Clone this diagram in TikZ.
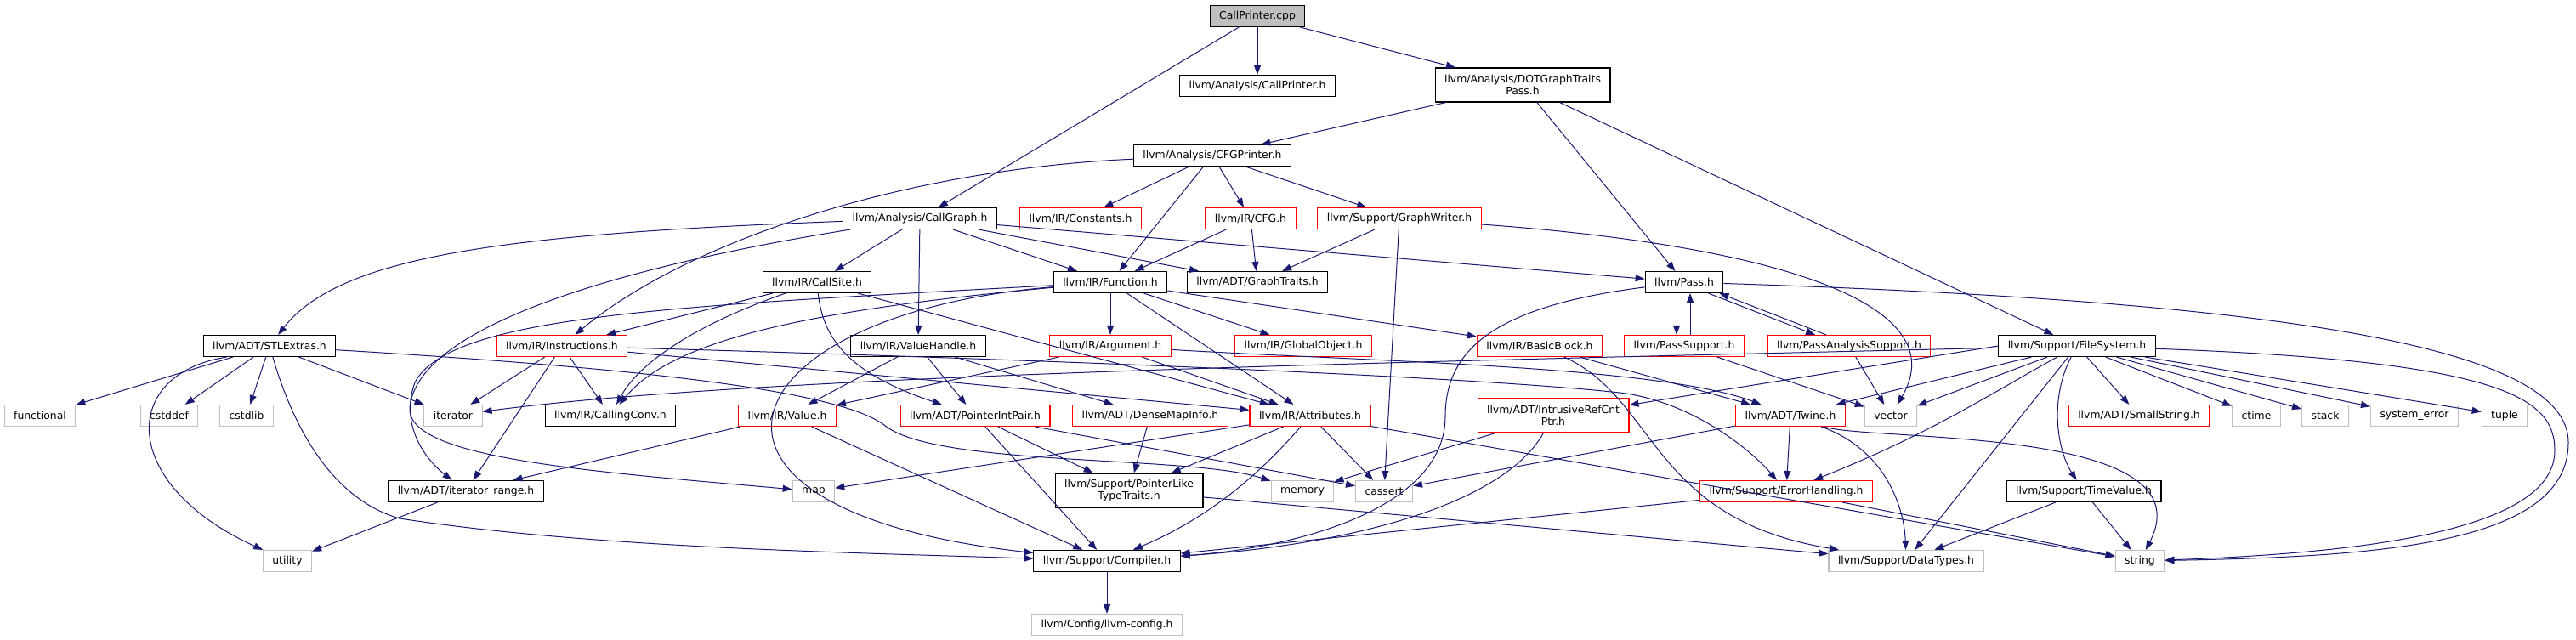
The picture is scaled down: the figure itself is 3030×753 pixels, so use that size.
\documentclass[tikz,border=0pt]{standalone}
\usepackage{fontspec}
\setmainfont{DejaVu Sans}
\usepackage{tikz}
\usetikzlibrary{arrows.meta}
\definecolor{edgeblue}{RGB}{25, 25, 112}
\definecolor{sysgrey}{RGB}{191, 191, 191}
\definecolor{cutred}{RGB}{255, 0, 0}

\begin{document}
\begin{tikzpicture}[x=0.5pt, y=-0.5pt,
  file/.style={draw=black, line width=0.55pt, font=\fontsize{6.2}{7}\selectfont,
    inner xsep=5.5pt, inner ysep=1pt, minimum height=12.5pt, align=center},
  sysfile/.style={file, draw=sysgrey},
  cutfile/.style={file, draw=cutred},
  rootfile/.style={file, fill=sysgrey},
  twoline/.style={minimum height=20pt},
  inc/.style={-{Triangle[length=5.5pt,width=4pt]}, edgeblue, line width=0.5pt}]
  \useasboundingbox (0,0) rectangle (3030,753);

  % rank 0-2
  \node[rootfile] (cpp)  at (1479,19)  {CallPrinter.cpp};
  \node[file]     (cph)  at (1479,101) {llvm/Analysis/CallPrinter.h};
  \node[file, twoline] (dot) at (1791,100) {llvm/Analysis/DOTGraphTraits\\Pass.h};
  \node[file]     (cfgp) at (1426,183) {llvm/Analysis/CFGPrinter.h};
  % rank 3
  \node[file]    (cg)    at (1082,257) {llvm/Analysis/CallGraph.h};
  \node[cutfile] (const) at (1271,257) {llvm/IR/Constants.h};
  \node[cutfile] (cfg)   at (1471,257) {llvm/IR/CFG.h};
  \node[cutfile] (gw)    at (1646,257) {llvm/Support/GraphWriter.h};
  % rank 4
  \node[file] (cs)   at (961,332)  {llvm/IR/CallSite.h};
  \node[file] (fn)   at (1306,332) {llvm/IR/Function.h};
  \node[file] (gt)   at (1479,332) {llvm/ADT/GraphTraits.h};
  \node[file] (pass) at (1981,332) {llvm/Pass.h};
  % rank 5
  \node[file]    (stl)  at (317,407)  {llvm/ADT/STLExtras.h};
  \node[cutfile] (inst) at (661,407)  {llvm/IR/Instructions.h};
  \node[file]    (vh)   at (1080,407) {llvm/IR/ValueHandle.h};
  \node[cutfile] (arg)  at (1306,407) {llvm/IR/Argument.h};
  \node[cutfile] (gobj) at (1533,407) {llvm/IR/GlobalObject.h};
  \node[cutfile] (bb)   at (1811,407) {llvm/IR/BasicBlock.h};
  \node[cutfile] (ps)   at (1981,407) {llvm/PassSupport.h};
  \node[cutfile] (pas)  at (2175,407) {llvm/PassAnalysisSupport.h};
  \node[file]    (fs)   at (2443,407) {llvm/Support/FileSystem.h};
  % rank 6
  \node[sysfile] (functional) at (47,489)  {functional};
  \node[sysfile] (cstddef)    at (199,489) {cstddef};
  \node[sysfile] (cstdlib)    at (290,489) {cstdlib};
  \node[sysfile] (iterator)   at (533,489) {iterator};
  \node[file]    (cc)   at (718,489)  {llvm/IR/CallingConv.h};
  \node[cutfile] (val)  at (926,489)  {llvm/IR/Value.h};
  \node[cutfile] (pip)  at (1147,489) {llvm/ADT/PointerIntPair.h};
  \node[cutfile] (dmi)  at (1353,489) {llvm/ADT/DenseMapInfo.h};
  \node[cutfile] (attr) at (1541,489) {llvm/IR/Attributes.h};
  \node[cutfile, twoline] (irc) at (1827,489) {llvm/ADT/IntrusiveRefCnt\\Ptr.h};
  \node[cutfile] (tw)   at (2106,489) {llvm/ADT/Twine.h};
  \node[sysfile] (vector) at (2224,489) {vector};
  \node[cutfile] (ss)   at (2516,489) {llvm/ADT/SmallString.h};
  \node[sysfile] (ctime)  at (2654,489) {ctime};
  \node[sysfile] (stack)  at (2735,489) {stack};
  \node[sysfile] (syserr) at (2840,489) {system\_error};
  \node[sysfile] (tuple)  at (2946,489) {tuple};
  % rank 7
  \node[file]    (itr)    at (548,578)  {llvm/ADT/iterator\_range.h};
  \node[sysfile] (map)    at (957,578)  {map};
  \node[file, twoline] (pltt) at (1328,577) {llvm/Support/PointerLike\\TypeTraits.h};
  \node[sysfile] (memory)  at (1532,578) {memory};
  \node[sysfile] (cassert) at (1628,578) {cassert};
  \node[cutfile] (eh)     at (2101,578) {llvm/Support/ErrorHandling.h};
  \node[file]    (tv)     at (2451,578) {llvm/Support/TimeValue.h};
  % rank 8-9
  \node[sysfile] (utility) at (338,660)  {utility};
  \node[file]    (comp)    at (1302,660) {llvm/Support/Compiler.h};
  \node[sysfile] (dt)      at (2242,660) {llvm/Support/DataTypes.h};
  \node[sysfile] (string)  at (2517,660) {string};
  \node[sysfile] (cfgh)    at (1302,735) {llvm/Config/llvm-config.h};

  % CallPrinter.cpp
  \draw[inc] (cpp) -- (cg);
  \draw[inc] (cpp) -- (cph);
  \draw[inc] (cpp) -- (dot);
  % DOTGraphTraitsPass.h
  \draw[inc] (dot) -- (cfgp);
  \draw[inc] (dot) -- (pass);
  \draw[inc] (dot) -- (fs);
  % CFGPrinter.h
  \draw[inc] (cfgp) .. controls (1050,200) and (800,290) .. (inst);
  \draw[inc] (cfgp) -- (const);
  \draw[inc] (cfgp) -- (fn);
  \draw[inc] (cfgp) -- (cfg);
  \draw[inc] (cfgp) -- (gw);
  % CallGraph.h
  \draw[inc] (cg) .. controls (600,275) and (400,300) .. (stl);
  \draw[inc] (cg) .. controls (750,310) and (490,380) .. (482,480) .. controls (478,540) and (700,555) .. (map);
  \draw[inc] (cg) -- (cs);
  \draw[inc] (cg) -- (vh);
  \draw[inc] (cg) -- (fn);
  \draw[inc] (cg) -- (gt);
  \draw[inc] (cg) -- (pass);
  % CFG.h, GraphWriter.h
  \draw[inc] (cfg) -- (fn);
  \draw[inc] (cfg) -- (gt);
  \draw[inc] (gw) -- (gt);
  \draw[inc] (gw) -- (cassert);
  \draw[inc] (gw) .. controls (2100,290) and (2300,360) .. (vector);
  % CallSite.h
  \draw[inc] (cs) -- (inst);
  \draw[inc] (cs) .. controls (810,385) and (750,430) .. (cc);
  \draw[inc] (cs) .. controls (968,400) and (1000,440) .. (pip);
  \draw[inc] (cs) -- (attr);
  % Function.h
  \draw[inc] (fn) .. controls (800,360) and (530,370) .. (488,450) .. controls (470,500) and (500,540) .. (itr);
  \draw[inc] (fn) .. controls (950,365) and (790,400) .. (cc);
  \draw[inc] (fn) .. controls (850,370) and (760,600) .. (comp);
  \draw[inc] (fn) -- (arg);
  \draw[inc] (fn) -- (attr);
  \draw[inc] (fn) -- (gobj);
  \draw[inc] (fn) -- (bb);
  % Pass.h
  \draw[inc] ([xshift=-4.5pt]pass.south) -- ([xshift=-4.5pt]ps.north);
  \draw[inc] ([xshift=3.5pt]ps.north) -- ([xshift=3.5pt]pass.south);
  \draw[inc] ([xshift=-9pt]pass.south east) -- ([xshift=-20pt]pas.north);
  \draw[inc] ([xshift=-13.5pt]pas.north) -- ([xshift=-2.5pt]pass.south east);
  \draw[inc] (pass) .. controls (1760,360) and (1700,410) .. (1700,490) .. controls (1700,600) and (1520,645) .. (comp);
  \draw[inc] (pass) .. controls (2700,355) and (3020,410) .. (3021,520) .. controls (3022,640) and (2800,655) .. (string);
  % STLExtras.h
  \draw[inc] (stl) -- (functional);
  \draw[inc] (stl) -- (cstddef);
  \draw[inc] (stl) -- (cstdlib);
  \draw[inc] (stl) -- (iterator);
  \draw[inc] ([xshift=14pt]stl.south west) .. controls (140,440) and (140,570) .. (utility);
  \draw[inc] (stl) .. controls (350,520) and (400,590) .. (470,610) .. controls (700,645) and (1000,650) .. (comp);
  \draw[inc] (stl) .. controls (700,430) and (980,455) .. (1040,500) .. controls (1100,550) and (1400,535) .. (memory);
  % Instructions.h
  \draw[inc] (inst) -- (iterator);
  \draw[inc] (inst) -- (cc);
  \draw[inc] (inst) -- (itr);
  \draw[inc] (inst) -- (attr);
  \draw[inc] (inst) .. controls (1300,425) and (1750,445) .. (1905,462) .. controls (1990,472) and (2060,530) .. (eh);
  % ValueHandle.h, Argument.h, BasicBlock.h
  \draw[inc] (vh) -- (val);
  \draw[inc] (vh) -- (pip);
  \draw[inc] (vh) -- (dmi);
  \draw[inc] (arg) -- (val);
  \draw[inc] (arg) -- (attr);
  \draw[inc] (arg) .. controls (1600,425) and (1950,430) .. (tw);
  \draw[inc] (bb) -- (tw);
  \draw[inc] (bb) .. controls (1950,470) and (1940,610) .. (dt);
  \draw[inc] (ps) -- (vector);
  \draw[inc] (pas) -- (vector);
  % FileSystem.h
  \draw[inc] (fs) .. controls (1700,425) and (900,440) .. (iterator);
  \draw[inc] (fs.west) -- ([yshift=-4pt]irc.north east);
  \draw[inc] (fs) -- (tw);
  \draw[inc] (fs) -- (vector);
  \draw[inc] (fs) .. controls (2330,470) and (2270,510) .. (eh);
  \draw[inc] (fs) -- (dt);
  \draw[inc] (fs) .. controls (2410,470) and (2420,530) .. (tv);
  \draw[inc] (fs) -- (ss);
  \draw[inc] (fs) -- (ctime);
  \draw[inc] (fs) -- (stack);
  \draw[inc] (fs) -- (syserr);
  \draw[inc] (fs) -- (tuple);
  \draw[inc] (fs) .. controls (2950,425) and (3005,470) .. (3005,530) .. controls (3005,620) and (2800,650) .. (string);
  % Value.h, PointerIntPair.h, DenseMapInfo.h
  \draw[inc] (val) -- (itr);
  \draw[inc] (val) -- (comp);
  \draw[inc] (pip) -- (pltt);
  \draw[inc] (pip) -- (comp);
  \draw[inc] (pip) -- (cassert);
  \draw[inc] (dmi) -- (pltt);
  % Attributes.h
  \draw[inc] (attr) -- (map);
  \draw[inc] (attr) -- (pltt);
  \draw[inc] (attr) -- (cassert);
  \draw[inc] (attr) .. controls (1480,560) and (1420,610) .. (comp);
  \draw[inc] (attr) -- (string);
  % IntrusiveRefCntPtr.h, Twine.h
  \draw[inc] (irc) -- (memory);
  \draw[inc] (irc) .. controls (1770,590) and (1600,640) .. (comp);
  \draw[inc] (tw) -- (cassert);
  \draw[inc] (tw) -- (eh);
  \draw[inc] (tw) .. controls (2220,530) and (2240,600) .. (dt);
  \draw[inc] (tw) .. controls (2200,520) and (2600,500) .. (string);
  % lower ranks
  \draw[inc] (itr) -- (utility);
  \draw[inc] (pltt) -- (dt);
  \draw[inc] (eh) -- (comp);
  \draw[inc] (eh) -- (string);
  \draw[inc] (tv) -- (dt);
  \draw[inc] (tv) -- (string);
  \draw[inc] (comp) -- (cfgh);
\end{tikzpicture}
\end{document}
